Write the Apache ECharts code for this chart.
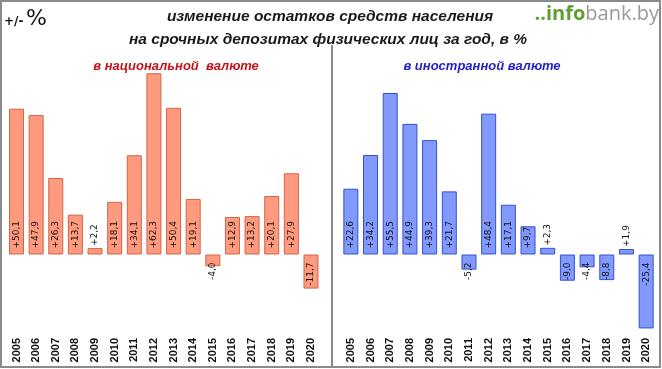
<!DOCTYPE html>
<html><head><meta charset="utf-8">
<script src="https://cdn.jsdelivr.net/npm/echarts@6/dist/echarts.min.js"></script>
<style>html,body{margin:0;padding:0;background:#fff}#c{width:662px;height:369px}</style>
</head><body><div id="c"></div>
<script>
const years = ['2005','2006','2007','2008','2009','2010','2011','2012','2013','2014','2015','2016','2017','2018','2019','2020'];
const nationalCurrency = [50.1, 47.9, 26.3, 13.7, 2.2, 18.1, 34.1, 62.3, 50.4, 19.1, -4.0, 12.9, 13.2, 20.1, 27.9, -11.7];
const foreignCurrency = [22.6, 34.2, 55.5, 44.9, 39.3, 21.7, -5.2, 48.4, 17.1, 9.7, 2.3, -9.0, -4.4, -8.8, 1.9, -25.4];
const titleLines = ['изменение остатков средств населения', 'на срочных депозитах физических лиц за год, в %'];
const subtitleNational = 'в национальной  валюте';
const subtitleForeign = 'в иностранной валюте';

const fmt = v => (v > 0 ? '+' : '') + v.toFixed(1).replace('.', ',');
const labelFor = v => {
  const base = {show: true, rotate: 90, fontFamily: 'DejaVu Sans', fontSize: 9, color: '#111', verticalAlign: 'middle', formatter: p => fmt(p.value)};
  if (v > 0 && v < 7) return Object.assign(base, {position: 'top', align: 'left', distance: 2});
  if (v > 0) return Object.assign(base, {position: 'insideBottom', align: 'left', distance: 6});
  return Object.assign(base, {position: 'insideTop', align: 'right', distance: 8});
};
const mkData = arr => arr.map(v => ({value: v, label: labelFor(v)}));

const chart = echarts.init(document.getElementById('c'), null, {renderer: 'canvas'});
const grids = [
  {left: 6.7, right: 341.2, top: 50.8, bottom: 33},
  {left: 341, right: 6, top: 50.8, bottom: 33}
];
const xAx = i => ({
  type: 'category', gridIndex: i, data: years, position: 'bottom',
  axisLine: {show: false}, axisTick: {show: false},
  axisLabel: {rotate: 90, interval: 0, margin: 2, fontFamily: 'Liberation Sans', fontWeight: 'bold', fontSize: 11, color: '#111'}
});
const yAx = i => ({type: 'value', gridIndex: i, min: -28, max: 70, show: false, splitLine: {show: false}});

chart.setOption({
  animation: false,
  grid: grids,
  xAxis: [xAx(0), xAx(1)],
  yAxis: [yAx(0), yAx(1)],
  series: [
    {type: 'bar', xAxisIndex: 0, yAxisIndex: 0, data: mkData(nationalCurrency), barWidth: 15,
     itemStyle: {color: '#FF9A7E', borderColor: '#D0654A', borderWidth: 1}},
    {type: 'bar', xAxisIndex: 1, yAxisIndex: 1, data: mkData(foreignCurrency), barWidth: 15,
     itemStyle: {color: '#8299FF', borderColor: '#3550CC', borderWidth: 1}}
  ],
  graphic: [
    {type: 'rect', shape: {x: 1, y: 1, width: 659, height: 366}, style: {fill: 'none', stroke: '#8a8a8a', lineWidth: 2}, silent: true},
    {type: 'line', shape: {x1: 332, y1: 45, x2: 332, y2: 368}, style: {stroke: '#8a8a8a', lineWidth: 2}},
    {type: 'text', style: {text: titleLines[0], x: 330, y: 17, align: 'center', verticalAlign: 'middle', font: 'italic bold 15.5px "Liberation Sans"', fill: '#1a1a1a'}},
    {type: 'text', style: {text: titleLines[1], x: 328, y: 40, align: 'center', verticalAlign: 'middle', font: 'italic bold 15.5px "Liberation Sans"', fill: '#1a1a1a'}},
    {type: 'text', style: {text: subtitleNational, x: 176, y: 66, align: 'center', verticalAlign: 'middle', font: 'italic bold 13px "Liberation Sans"', fill: '#C0141A'}},
    {type: 'text', style: {text: subtitleForeign, x: 482, y: 66, align: 'center', verticalAlign: 'middle', font: 'italic bold 13px "Liberation Sans"', fill: '#2222C8'}},
    {type: 'text', style: {text: '+/-', x: 4, y: 22, align: 'left', verticalAlign: 'middle', font: 'bold 12px "DejaVu Sans"', fill: '#111'}},
    {type: 'text', style: {text: '%', x: 26, y: 19, align: 'left', verticalAlign: 'middle', font: '22px "DejaVu Sans"', fill: '#111'}},
    {type: 'text', style: {
      x: 659, y: 14, align: 'right', verticalAlign: 'middle',
      text: '{g|..info}{b|bank.by}',
      rich: {g: {fontFamily: 'Open Sans', fontSize: 20, fontWeight: 'bold', fill: '#5E9E2E', color: '#5E9E2E'},
             b: {fontFamily: 'Open Sans', fontSize: 20, color: '#9a9a9a', fill: '#9a9a9a'}}
    }}
  ]
});
</script></body></html>
